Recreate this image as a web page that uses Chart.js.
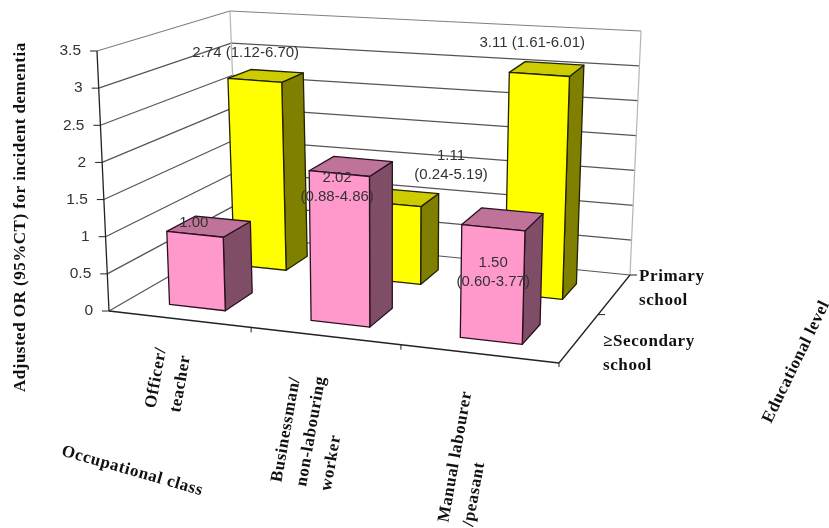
<!DOCTYPE html>
<html>
<head>
<meta charset="utf-8">
<title>Adjusted OR for incident dementia</title>
<script src="https://cdn.jsdelivr.net/npm/chart.js@4"></script>
<style>
    html, body { margin: 0; padding: 0; background: #fff; }
    #box { width: 829px; height: 528px; }
    #chart { filter: blur(0.4px); }
</style>
</head>
<body>
<div id="box"><canvas id="chart"></canvas></div>
<script>
// Data
const occupationLabels = [['Officer/', 'teacher'], ['Businessman/', 'non-labouring', 'worker'], ['Manual labourer', '/peasant']];
const secondaryValues = [1.00, 2.02, 1.50];
const primaryValues = [2.74, 1.11, 3.11];
const secondaryText = [['1.00'], ['2.02', '(0.88-4.86)'], ['1.50', '(0.60-3.77)']];
const primaryText = [['2.74 (1.12-6.70)'], ['1.11', '(0.24-5.19)'], ['3.11 (1.61-6.01)']];
const educationLabels = [['≥Secondary', 'school'], ['Primary', 'school']];
const yTitle = 'Adjusted OR (95%CT) for incident dementia';
const xTitle = 'Occupational class';
const zTitle = 'Educational level';

// Box corners of the 3D plot: floor point and the rise up to the top of the y axis
const floorCorners = { fl: [109, 311], fr: [559, 363], bl: [239, 236], br: [630, 275] };
const riseCorners = { fl: [-12, -260], fr: [8, -270], bl: [-9, -225], br: [11, -244] };
const perspective = 1.083;
// front and back of each row of bars, 0 = front edge of floor, 1 = back wall
const depthBands = [[0.15, 0.38], [0.67, 0.85]];

const sansFont = '"Liberation Sans", Arial, sans-serif';
const serifFont = '"Liberation Serif", "Times New Roman", serif';
const titleFont = 'bold 17px ' + serifFont;

function bilerp(c, u, d) {
    const out = [];
    for (let i = 0; i < 2; i++) {
        out.push((1 - d) * ((1 - u) * c.fl[i] + u * c.fr[i]) + d * ((1 - u) * c.bl[i] + u * c.br[i]));
    }
    return out;
}

// u: 0-1 along occupational axis, d: 0-1 into the page, t: 0-1 up the value axis
function project(u, d, t) {
    const s = u / (u + perspective * (1 - u));
    const f = bilerp(floorCorners, s, d);
    const r = bilerp(riseCorners, s, d);
    return [f[0] + t * r[0], f[1] + t * r[1]];
}

function line(ctx, a, b, color, width) {
    ctx.strokeStyle = color;
    ctx.lineWidth = width;
    ctx.beginPath();
    ctx.moveTo(a[0], a[1]);
    ctx.lineTo(b[0], b[1]);
    ctx.stroke();
}

function face(ctx, pts, fill, stroke) {
    ctx.fillStyle = fill;
    ctx.strokeStyle = stroke;
    ctx.lineWidth = 1.3;
    ctx.lineJoin = 'round';
    ctx.beginPath();
    pts.forEach((p, i) => (i ? ctx.lineTo(p[0], p[1]) : ctx.moveTo(p[0], p[1])));
    ctx.closePath();
    ctx.fill();
    ctx.stroke();
}

function text(ctx, lines, x, y, opts) {
    ctx.save();
    ctx.translate(x, y);
    ctx.rotate((opts.angle || 0) * Math.PI / 180);
    ctx.font = opts.font;
    ctx.fillStyle = opts.color || '#111';
    ctx.textAlign = opts.align || 'left';
    ctx.textBaseline = 'middle';
    ctx.letterSpacing = opts.spacing || '0px';
    lines.forEach((l, i) => ctx.fillText(l, 0, i * (opts.lineHeight || 0)));
    ctx.restore();
}

function tickFraction(scale, value) {
    return (scale.bottom - scale.getPixelForValue(value)) / (scale.bottom - scale.top);
}

function barCorners(chart, el, band) {
    const area = chart.chartArea;
    const u0 = (el.x - el.width / 2 - area.left) / area.width;
    const u1 = (el.x + el.width / 2 - area.left) / area.width;
    const t = (area.bottom - el.y) / area.height;
    return { u0, u1, t, d0: band[0], d1: band[1] };
}

const box3d = {
    id: 'box3d',
    beforeDatasetsDraw(chart) {
        const ctx = chart.ctx;
        const y = chart.scales.y;
        // walls
        y.ticks.forEach((tick) => {
            const t = tickFraction(y, tick.value);
            const color = tick.value === 3.5 ? '#808080' : '#555';
            line(ctx, project(0, 0, t), project(0, 1, t), color, 1.2);
            line(ctx, project(0, 1, t), project(1, 1, t), color, 1.2);
        });
        line(ctx, project(0, 1, 0), project(0, 1, 1), '#b5b5b5', 1.2);
        line(ctx, project(1, 1, 0), project(1, 1, 1), '#b5b5b5', 1.2);
        // axes
        line(ctx, project(0, 0, 0), project(0, 0, 1), '#222', 1.3);
        line(ctx, project(0, 0, 0), project(1, 0, 0), '#222', 1.5);
        line(ctx, project(1, 0, 0), project(1, 1, 0), '#222', 1.3);
        y.ticks.forEach((tick) => {
            const p = project(0, 0, tickFraction(y, tick.value));
            line(ctx, [p[0] - 7, p[1]], p, '#222', 1);
        });
        [1 / 3, 2 / 3].forEach((u) => {
            const p = project(u, 0, 0);
            line(ctx, p, [p[0], p[1] + 5], '#222', 1);
        });
        line(ctx, project(1, 0, 0), [project(1, 0, 0)[0], project(1, 0, 0)[1] + 4], '#222', 1);
        [0.55, 1].forEach((d) => {
            const p = project(1, d, 0);
            line(ctx, p, [p[0] + 7, p[1]], '#222', 1);
        });
    },
    beforeDatasetDraw(chart, args) {
        const ctx = chart.ctx;
        const ds = chart.data.datasets[args.index];
        args.meta.data.forEach((el) => {
            const b = barCorners(chart, el, depthBands[args.index]);
            const fbl = project(b.u0, b.d0, 0), fbr = project(b.u1, b.d0, 0), bbr = project(b.u1, b.d1, 0);
            const ftl = project(b.u0, b.d0, b.t), ftr = project(b.u1, b.d0, b.t);
            const btl = project(b.u0, b.d1, b.t), btr = project(b.u1, b.d1, b.t);
            face(ctx, [fbr, bbr, btr, ftr], ds.sideColor, ds.borderColor);
            face(ctx, [ftl, ftr, btr, btl], ds.topColor, ds.borderColor);
            face(ctx, [fbl, fbr, ftr, ftl], ds.backgroundColor, ds.borderColor);
        });
        return false;
    },
    afterDatasetsDraw(chart) {
        const ctx = chart.ctx;
        const y = chart.scales.y;

        // value labels, placed relative to the front top edge of their bar
        chart.data.datasets.forEach((ds, i) => {
            chart.getDatasetMeta(i).data.forEach((el, j) => {
                const b = barCorners(chart, el, depthBands[i]);
                const p = project((b.u0 + b.u1) / 2, b.d0, b.t);
                const off = ds.labelOffsets[j];
                text(ctx, ds.valueText[j], p[0] + off[0], p[1] + off[1], {
                    font: '15px ' + sansFont, color: '#333', align: 'center', lineHeight: 19
                });
            });
        });

        // y ticks follow the slanted axis
        y.ticks.forEach((tick) => {
            const p = project(0, 0, tickFraction(y, tick.value));
            text(ctx, [String(tick.value)], p[0] - 16, p[1], { font: '15.5px ' + sansFont, color: '#333', align: 'right' });
        });

        // occupational class tick labels
        const labelStarts = [[151, 408], [277, 482], [444, 522]];
        chart.scales.x.getLabels().forEach((lines, i) => {
            text(ctx, lines, labelStarts[i][0], labelStarts[i][1], {
                font: titleFont, angle: -80, lineHeight: 25, spacing: '0.6px'
            });
        });

        // educational level tick labels
        const levelStarts = [[603, 342], [639, 277]];
        educationLabels.forEach((lines, i) => {
            text(ctx, lines, levelStarts[i][0], levelStarts[i][1], {
                font: titleFont, lineHeight: 23.5, spacing: '0.6px'
            });
        });

        // axis titles
        text(ctx, [yTitle], 21, 392, { font: titleFont, angle: -90, spacing: '0.5px' });
        text(ctx, [xTitle], 62, 451, { font: titleFont, angle: 16, spacing: '0.6px' });
        text(ctx, [zTitle], 767, 422, { font: titleFont, angle: -64, spacing: '0.5px' });
    }
};

const chart = new Chart(document.getElementById('chart'), {
    type: 'bar',
    plugins: [box3d],
    data: {
        labels: occupationLabels,
        datasets: [
            {
                label: educationLabels[0].join(' '),
                data: secondaryValues,
                valueText: secondaryText,
                labelOffsets: [[-1, -11], [-2, 4], [0, 35]],
                backgroundColor: '#FF99CC',
                topColor: '#BF7399',
                sideColor: '#804D66',
                borderColor: '#2a1020'
            },
            {
                label: educationLabels[1].join(' '),
                data: primaryValues,
                valueText: primaryText,
                labelOffsets: [[-9, -27], [58, -48], [-7, -32]],
                backgroundColor: '#FFFF00',
                topColor: '#CCCC00',
                sideColor: '#808000',
                borderColor: '#222200'
            }
        ]
    },
    options: {
        responsive: true,
        maintainAspectRatio: false,
        animation: false,
        layout: { padding: { left: 97, top: 51, right: 262, bottom: 217 } },
        datasets: { bar: { grouped: false, categoryPercentage: 1, barPercentage: 0.4 } },
        plugins: { legend: { display: false }, tooltip: { enabled: false } },
        scales: {
            x: { display: false },
            y: { display: false, min: 0, max: 3.5, ticks: { stepSize: 0.5 } }
        }
    }
});
</script>
</body>
</html>
